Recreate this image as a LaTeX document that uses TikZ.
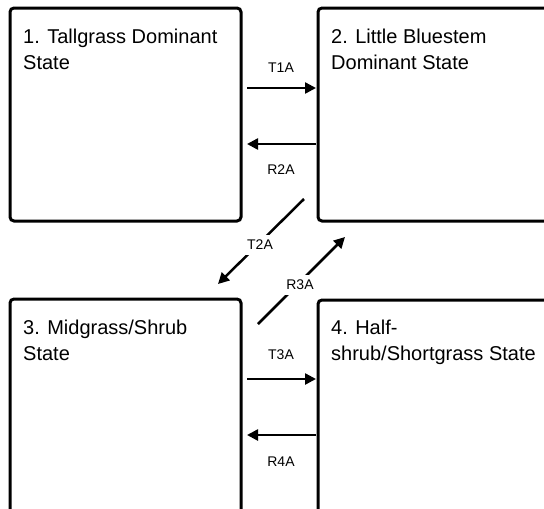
\documentclass[tikz,border=0pt]{standalone}
\usepackage{fontspec}
\setmainfont{Liberation Sans}
\usetikzlibrary{arrows.meta}
\begin{document}
\begin{tikzpicture}[x=1pt,y=-1pt,
  statebox/.style={draw=black,line width=3pt,rounded corners=4pt},
  statetext/.style={anchor=base west,inner sep=0pt,font=\fontsize{20}{26}\selectfont,align=left},
  trans/.style={line width=2.5pt,-{Triangle[length=11pt,width=11pt]}},
  lbl/.style={font=\fontsize{14}{16}\selectfont,fill=white,inner xsep=2pt,inner ysep=5pt}]
\useasboundingbox (0,0) rectangle (544,509);
\clip (0,0) rectangle (544,509);
\draw[statebox] (10,8) rectangle (241,221);
\draw[statebox] (318,8) rectangle (560,221);
\draw[statebox] (10,299) rectangle (241,530);
\draw[statebox] (318,300) rectangle (560,530);
\node[statetext] (s1) at (23,69) {1. Tallgrass Dominant\\State};
\node[statetext] (s2) at (331,69) {2. Little Bluestem\\Dominant State};
\node[statetext] (s3) at (23,360) {3. Midgrass/Shrub\\State};
\node[statetext] (s4) at (331,360) {4. Half-\\shrub/Shortgrass State};
\coordinate (a1) at (247,88); \coordinate (b1) at (316,88);
\coordinate (a2) at (316,144); \coordinate (b2) at (247,144);
\coordinate (a3) at (247,379); \coordinate (b3) at (316,379);
\coordinate (a4) at (316,435); \coordinate (b4) at (247,435);
\coordinate (a5) at (304,199); \coordinate (b5) at (218,284);
\coordinate (a6) at (258,324); \coordinate (b6) at (345,237);
\draw[trans] (a1) -- (b1);
\draw[trans] (a2) -- (b2);
\draw[trans] (a3) -- (b3);
\draw[trans] (a4) -- (b4);
\draw[trans] (a5) -- (b5);
\draw[trans] (a6) -- (b6);
\node[lbl] (l1) at (281,68) {T1A};
\node[lbl] (l2) at (281,170) {R2A};
\node[lbl] (l3) at (281,355) {T3A};
\node[lbl] (l4) at (281,462) {R4A};
\node[lbl] (l5) at (260,245) {T2A};
\node[lbl] (l6) at (300,285) {R3A};
\end{tikzpicture}
\end{document}
